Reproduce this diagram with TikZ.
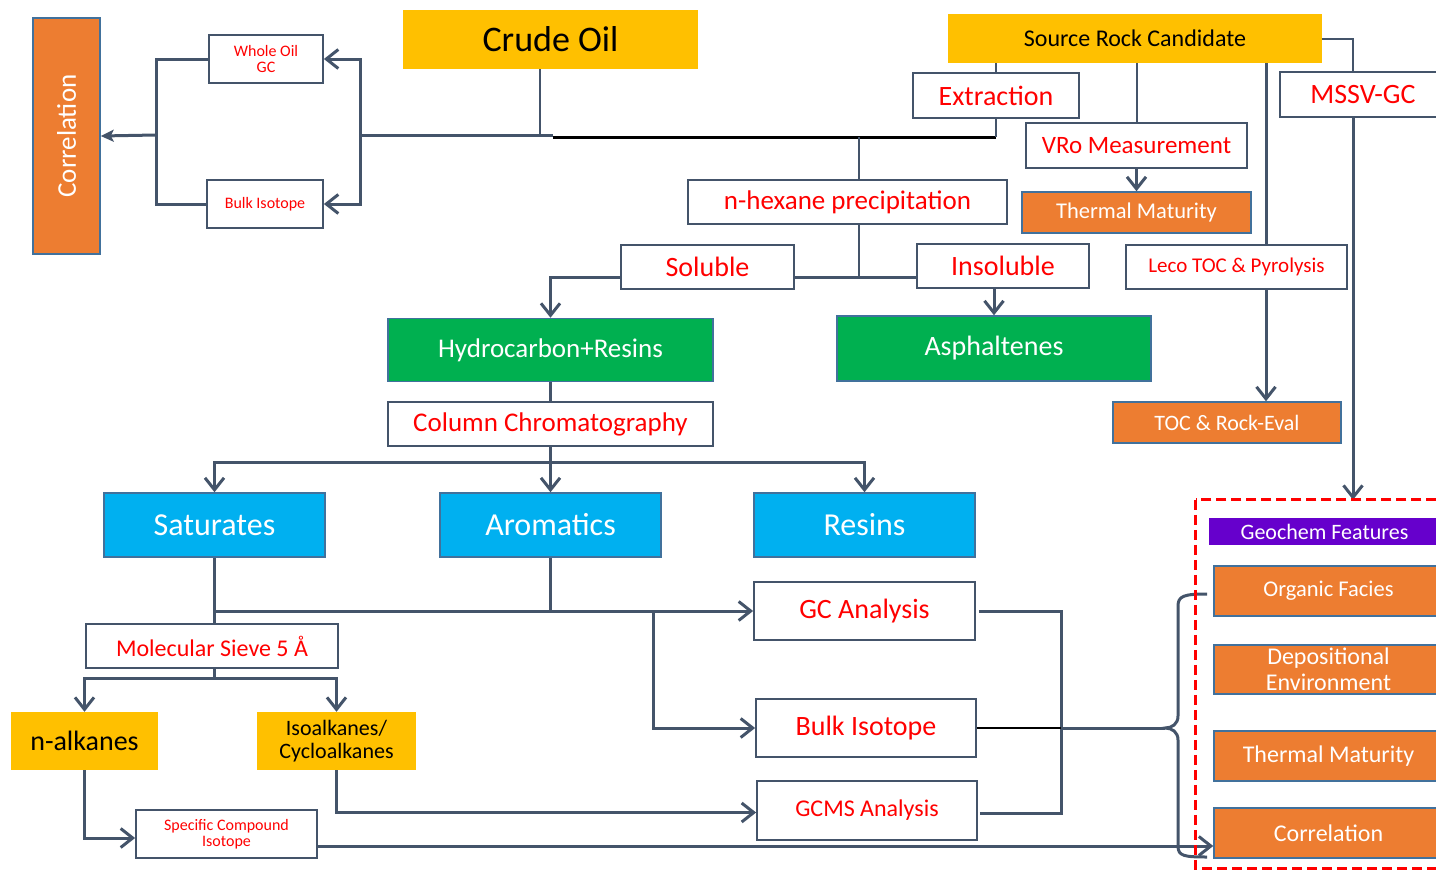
\documentclass[tikz,border=0pt]{standalone}
\usepackage{fontspec}
\setmainfont{Carlito}
\usepackage{graphicx}
\usetikzlibrary{arrows.meta}
\usetikzlibrary{positioning}

\definecolor{gold}{HTML}{FFC000}
\definecolor{orng}{HTML}{ED7D31}
\definecolor{grn}{HTML}{00B050}
\definecolor{cyn}{HTML}{00B0F0}
\definecolor{purp}{HTML}{6600CC}
\definecolor{edgeblue}{HTML}{41719C}
\definecolor{linegray}{HTML}{44546A}
\definecolor{txtred}{HTML}{FF0000}

\begin{document}
\begin{tikzpicture}[x=1pt,y=-1pt,>={Straight Barb[length=12pt,width=19pt,line width=3pt]}]
\tikzset{
  box/.style = {shape=rectangle, inner sep=0pt, align=center},
  wbox/.style = {box, draw=linegray, line width=1.8pt, fill=white, text=txtred},
  obox/.style = {box, draw=edgeblue, line width=1.5pt, fill=orng, text=white},
  gbox/.style = {box, draw=edgeblue, line width=1.5pt, fill=grn, text=white},
  cbox/.style = {box, draw=edgeblue, line width=1.5pt, fill=cyn, text=white},
  ybox/.style = {box, fill=gold, text=black},
  pbox/.style = {box, fill=purp, text=white},
  conn/.style = {draw=linegray, line width=3pt},
  thinconn/.style = {draw=linegray, line width=2pt},
  blackline/.style = {draw=black, line width=3pt},
  featline/.style = {draw=txtred, line width=3pt, dash pattern=on 10pt off 5pt}
}
\useasboundingbox (0,0) rectangle (1436,870);

% crude oil side
\node[obox, minimum width=67pt, minimum height=236pt, font=\fontsize{27}{30}\selectfont] (corrL) at (66.5,136) {\rotatebox{90}{Correlation}};
\node[wbox, minimum width=114pt, minimum height=48pt, font=\fontsize{16}{16}\selectfont] (wogc) at (266,59) {Whole Oil\\GC};
\node[wbox, minimum width=116pt, minimum height=48pt, font=\fontsize{16}{18}\selectfont] (bulkA) at (265,204) {Bulk Isotope};
\node[ybox, minimum width=295pt, minimum height=59pt, font=\fontsize{36}{40}\selectfont] (crude) at (550.5,39.5) {Crude Oil};

% source rock side
\node[ybox, minimum width=374pt, minimum height=49pt, font=\fontsize{24}{26}\selectfont] (src) at (1135,38.5) {Source Rock Candidate};
\node[wbox, minimum width=166pt, minimum height=45pt, font=\fontsize{28}{30}\selectfont] (extr) at (996,95.5) {Extraction};
\node[wbox, minimum width=221pt, minimum height=45pt, font=\fontsize{25}{28}\selectfont] (vro) at (1136.5,145.5) {VRo Measurement};
\node[obox, minimum width=229pt, minimum height=41pt, font=\fontsize{22.5}{25}\selectfont] (tmA) at (1136.5,212.5) {Thermal Maturity};
\node[wbox, minimum width=166pt, minimum height=45pt, font=\fontsize{28}{30}\selectfont] (mssv) at (1363,94.5) {MSSV-GC};
\node[wbox, minimum width=221pt, minimum height=44pt, font=\fontsize{21}{24}\selectfont] (leco) at (1236.5,267) {Leco TOC \& Pyrolysis};
\node[obox, minimum width=228pt, minimum height=41pt, font=\fontsize{22}{25}\selectfont] (toc) at (1227,422.5) {TOC \& Rock-Eval};

% extract
\node[wbox, minimum width=319pt, minimum height=44pt, font=\fontsize{27}{30}\selectfont] (hex) at (847.5,202) {n-hexane precipitation};
\node[wbox, minimum width=173pt, minimum height=44pt, font=\fontsize{28}{30}\selectfont] (sol) at (707.5,267) {Soluble};
\node[wbox, minimum width=172pt, minimum height=44pt, font=\fontsize{28}{30}\selectfont] (insol) at (1003,266) {Insoluble};
\node[gbox, minimum width=325pt, minimum height=63pt, font=\fontsize{27}{30}\selectfont] (hcr) at (550.5,350) {Hydrocarbon+Resins};
\node[gbox, minimum width=314pt, minimum height=65pt, font=\fontsize{28}{30}\selectfont] (asph) at (994,348.5) {Asphaltenes};
\node[wbox, minimum width=325pt, minimum height=44pt, font=\fontsize{27}{30}\selectfont] (colc) at (550.5,424) {Column Chromatography};

% fractions
\node[cbox, minimum width=221pt, minimum height=64pt, font=\fontsize{32}{34}\selectfont] (sat) at (214.5,525) {Saturates};
\node[cbox, minimum width=221pt, minimum height=64pt, font=\fontsize{32}{34}\selectfont] (aro) at (550.5,525) {Aromatics};
\node[cbox, minimum width=221pt, minimum height=64pt, font=\fontsize{32}{34}\selectfont] (res) at (864.5,525) {Resins};
\node[wbox, minimum width=221pt, minimum height=58pt, font=\fontsize{28}{30}\selectfont] (gc) at (864.5,611) {GC Analysis};
\node[wbox, minimum width=252pt, minimum height=44pt, font=\fontsize{24}{26}\selectfont] (msv) at (212,646) {Molecular Sieve 5 Å};
\node[ybox, minimum width=147pt, minimum height=58pt, font=\fontsize{28}{30}\selectfont] (nalk) at (84.5,741) {n-alkanes};
\node[ybox, minimum width=159pt, minimum height=58pt, font=\fontsize{22}{23}\selectfont] (iso) at (336.5,741) {Isoalkanes/\\Cycloalkanes};
\node[wbox, minimum width=220pt, minimum height=58pt, font=\fontsize{28}{30}\selectfont] (bulkB) at (866,728) {Bulk Isotope};
\node[wbox, minimum width=220pt, minimum height=59pt, font=\fontsize{24}{26}\selectfont] (gcms) at (867,810.5) {GCMS Analysis};
\node[wbox, minimum width=181pt, minimum height=48pt, font=\fontsize{16}{16}\selectfont] (sci) at (226.5,834) {Specific Compound\\Isotope};

% geochem features
\node[box, minimum width=254pt, minimum height=368pt] (feat) at (1323,684) {};
\node[pbox, minimum width=231pt, minimum height=27pt, font=\fontsize{22}{24}\selectfont] (geo) at (1324.5,531.5) {Geochem Features};
\node[obox, minimum width=229pt, minimum height=50pt, font=\fontsize{22.5}{25}\selectfont] (of) at (1328.5,591) {Organic Facies};
\node[obox, minimum width=229pt, minimum height=49pt, font=\fontsize{24}{26}\selectfont] (dep) at (1328.5,669.5) {Depositional\\Environment};
\node[obox, minimum width=229pt, minimum height=50pt, font=\fontsize{24}{26}\selectfont] (tmB) at (1328.5,756) {Thermal Maturity};
\node[obox, minimum width=229pt, minimum height=50pt, font=\fontsize{24}{26}\selectfont] (corrB) at (1328.5,833) {Correlation};

% oil correlation
\coordinate (brk) at (360,135);
\coordinate (brl) at (156,135);
\coordinate (oilj) at (553,137);
\draw[conn] (brk) -- (oilj |- brk);
\draw[thinconn] ([xshift=-10.5pt]crude.south) -- ([xshift=-10.5pt]crude.south |- brk);
\draw[blackline] (oilj) -- (oilj -| extr.south);
\draw[thinconn] (extr.south) -- (oilj -| extr.south);
\draw[conn,->] (brk) |- (wogc.east);
\draw[conn,->] (brk) |- (bulkA.east);
\draw[conn] (wogc.west) -| (brl) |- (bulkA.west);
\draw[conn,-{Stealth[length=13pt,width=12pt,inset=3pt]}] (brl) -- (corrL.east);

% precipitation
\coordinate (hexj) at (859,137);
\coordinate (solj) at (859,277);
\draw[thinconn] (hexj) -- (hexj |- hex.north);
\draw[thinconn] (hexj |- hex.south) -- (solj);
\draw[conn] (sol.east |- solj) -- (insol.west |- solj);
\draw[conn,->] (sol.west |- solj) -| (hcr.north);
\draw[conn,->] (asph.north |- insol.south) -- (asph.north);

% source rock
\coordinate (lecol) at (1266,63);
\coordinate (mssvl) at (1353,117);
\draw[thinconn] (extr.north) -- (extr.north |- src.south);
\draw[thinconn] (vro.north) -- (vro.north |- src.south);
\draw[conn,->] (vro.south) -- (tmA.north);
\draw[conn] (lecol) -- (lecol |- leco.north);
\draw[conn,->] (lecol |- leco.south) -- (lecol |- toc.north);
\draw[thinconn] (src.east) -| (mssvl |- mssv.north);
\draw[conn,->] (mssvl |- mssv.south) -- (mssvl |- feat.north);

% column chromatography
\coordinate (colj) at (550.5,462);
\coordinate (gcj) at (214.5,611);
\coordinate (bulkj) at (653,611);
\coordinate (msj) at (214.5,678);
\draw[conn] (hcr.south) -- (colc.north);
\draw[conn] (colc.south) -- (colj);
\draw[conn,->] (colj) -| (sat.north);
\draw[conn,->] (colj) -- (aro.north);
\draw[conn,->] (colj) -| (res.north);
\draw[conn] (sat.south) -- (sat.south |- msv.north);
\draw[conn,->] (gcj) -- (gc.west);
\draw[conn] (aro.south) -- (aro.south |- gcj);
\draw[conn,->] (bulkj) |- (bulkB.west);
\draw[conn] (sat.south |- msv.south) -- (msj);
\draw[conn,->] (msj) -| (nalk.north);
\draw[conn,->] (msj) -| (iso.north);
\draw[conn,->] (nalk.south) |- ([yshift=-4pt]sci.west);
\draw[conn,->] (iso.south) |- ([yshift=-2pt]gcms.west);

% analyses to features
\coordinate (mrg) at (1061,728);
\coordinate (tip) at (1165,728);
\draw[conn] ([xshift=3pt]gc.east) -| (mrg);
\draw[conn] ([xshift=2pt,yshift=-3pt]gcms.east) -| (mrg);
\draw[black, line width=1.5pt] (bulkB.east) -- (mrg);
\draw[conn] (mrg) -- (tip);
\draw[conn] (1207,594) .. controls (1184,594) and (1178,596) .. (1178,606) -- (1178,716)
  .. controls (1178,724) and (1172,728) .. (tip)
  .. controls (1172,728) and (1178,732) .. (1178,740) -- (1178,846)
  .. controls (1178,856) and (1184,857) .. (1207,857);
\draw[conn,->] ([yshift=-12pt]sci.east) -- ([yshift=-13pt]corrB.west);
\draw[featline] (feat.north west) rectangle (feat.south east);

\end{tikzpicture}
\end{document}
